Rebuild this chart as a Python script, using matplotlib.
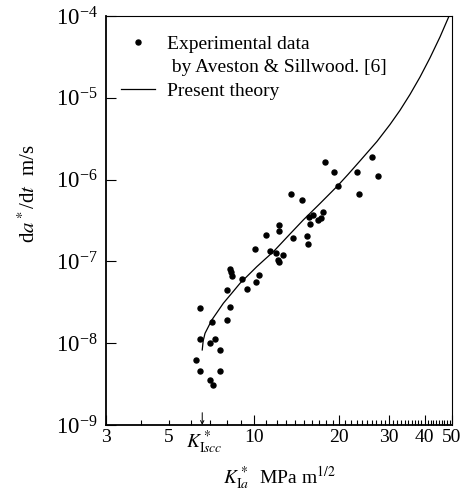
import matplotlib
matplotlib.use('Agg')
import matplotlib.pyplot as plt
from matplotlib.lines import Line2D
from matplotlib.ticker import (FixedLocator, FixedFormatter, NullFormatter,
                               NullLocator, LogFormatterMathtext)

plt.rcParams['font.family'] = ['Liberation Serif', 'DejaVu Serif']
plt.rcParams['mathtext.fontset'] = 'stix'

# Dati sperimentali (Aveston & Sillwood): K*_Ia [MPa m^1/2], da*/dt [m/s]
exp_k = [6.22, 6.46, 6.46, 6.46, 6.99, 6.99, 7.12, 7.14, 7.30, 7.58, 7.58,
         8.04, 8.04, 8.20, 8.20, 8.29, 8.38, 9.09, 9.44, 10.07, 10.16, 10.43,
         11.38, 11.95, 12.18, 12.25, 12.68, 11.02, 12.28, 12.28, 13.75, 13.50,
         14.73, 15.41, 15.54, 15.63, 15.79, 16.11, 16.86, 17.19, 17.47, 17.85,
         19.10, 19.73, 23.09, 23.47, 26.03, 27.32]
exp_v = [6.18e-9, 4.57e-9, 1.12e-8, 2.72e-8, 1.00e-8, 3.58e-9, 1.83e-8, 3.11e-9,
         1.12e-8, 8.19e-9, 4.57e-9, 4.51e-8, 1.92e-8, 2.79e-8, 8.07e-8, 7.48e-8,
         6.64e-8, 6.15e-8, 4.64e-8, 1.43e-7, 5.55e-8, 6.76e-8, 1.35e-7, 1.28e-7,
         1.05e-7, 9.84e-8, 1.20e-7, 2.08e-7, 2.35e-7, 2.79e-7, 1.93e-7, 6.67e-7,
         5.63e-7, 2.05e-7, 1.61e-7, 3.49e-7, 2.86e-7, 3.66e-7, 3.18e-7, 3.36e-7,
         4.02e-7, 1.66e-6, 1.24e-6, 8.36e-7, 1.25e-6, 6.73e-7, 1.87e-6, 1.11e-6]

# Curva teorica
theory_k = [6.56, 6.61, 6.71, 6.88, 7.09, 7.40, 7.79, 8.29, 8.92, 9.52, 10.22,
            10.93, 11.69, 13.18, 14.92, 17.09, 19.70, 21.46, 23.65, 27.17,
            30.19, 32.75, 35.51, 38.54, 41.80, 45.36, 48.79]
theory_v = [8.26e-9, 1.064e-8, 1.32e-8, 1.564e-8, 1.92e-8, 2.38e-8, 3.08e-8,
            3.98e-8, 5.40e-8, 6.75e-8, 8.61e-8, 1.064e-7, 1.31e-7, 2.04e-7,
            3.21e-7, 5.10e-7, 8.36e-7, 1.155e-6, 1.69e-6, 2.93e-6, 4.71e-6,
            7.03e-6, 1.096e-5, 1.794e-5, 3.08e-5, 5.56e-5, 9.96e-5]

K_ISCC = 6.56
x_labels = [3, 5, 10, 20, 30, 40, 50]
y_ticks = [1e-9, 1e-8, 1e-7, 1e-6, 1e-5, 1e-4]

fig = plt.figure(figsize=(4.66, 4.93), dpi=100)
ax = fig.add_axes([0.2275, 0.138, 0.7425, 0.8295])

ax.plot(exp_k, exp_v, 'o', color='black', markersize=3.6, linestyle='none')
ax.plot(theory_k, theory_v, '-', color='black', linewidth=0.9)

ax.set_xscale('log')
ax.set_yscale('log')
ax.set_xlim(3, 50)
ax.set_ylim(1e-9, 1e-4)

# asse x: etichette a 3, 5, 10, ... e tacche minori ad ogni intero
ax.xaxis.set_major_locator(FixedLocator(x_labels))
ax.xaxis.set_major_formatter(FixedFormatter([str(v) for v in x_labels]))
ax.xaxis.set_minor_locator(FixedLocator([v for v in range(4, 50) if v not in x_labels]))
ax.xaxis.set_minor_formatter(NullFormatter())
ax.tick_params(axis='x', which='major', direction='in', length=7, width=0.8,
               labelsize=14, top=False, pad=3)
ax.tick_params(axis='x', which='minor', direction='in', length=3.5, width=0.8, top=False)
ax.xaxis.get_major_ticks()[1].tick1line.set_markersize(3.5)

ax.yaxis.set_major_locator(FixedLocator(y_ticks))
ax.yaxis.set_major_formatter(LogFormatterMathtext())
ax.yaxis.set_minor_locator(NullLocator())
ax.tick_params(axis='y', which='major', direction='in', length=7, width=0.8,
               labelsize=16.5, right=False, pad=6)

for side in ('left', 'bottom'):
    ax.spines[side].set_linewidth(1.3)
for side in ('top', 'right'):
    ax.spines[side].set_linewidth(0.8)

# K*_Iscc con freccia sull'asse
ax.annotate('', xy=(K_ISCC, 0.0), xycoords=('data', 'axes fraction'),
            xytext=(K_ISCC, 0.03), textcoords=('data', 'axes fraction'),
            arrowprops=dict(arrowstyle='->', color='black', lw=0.7,
                            shrinkA=0, shrinkB=0, mutation_scale=6))
ax.text(K_ISCC * 1.015, -0.008, r'$K^*_{\mathrm{I}scc}$', transform=ax.get_xaxis_transform(),
        ha='center', va='top', fontsize=14)

ax.set_xlabel(r'$K^*_{\mathrm{I}a}$  MPa m$^{1/2}$', fontsize=14, labelpad=13)
ax.set_ylabel(r'd$a^*$/d$t$  m/s', fontsize=15)
ax.yaxis.set_label_coords(-0.19, 0.565)

handles = [
    Line2D([], [], marker='o', color='black', linestyle='none', markersize=3.6),
    Line2D([], [], linestyle='none'),
    Line2D([], [], color='black', linewidth=0.9),
]
labels = ['Experimental data', ' by Aveston & Sillwood. [6]', 'Present theory']
ax.legend(handles, labels, loc='upper left', frameon=False, fontsize=14,
          handlelength=1.75, handletextpad=0.62, labelspacing=0.3,
          borderpad=0.4, borderaxespad=0, bbox_to_anchor=(0.021, 0.972))

fig.savefig('out.png', dpi=100)
